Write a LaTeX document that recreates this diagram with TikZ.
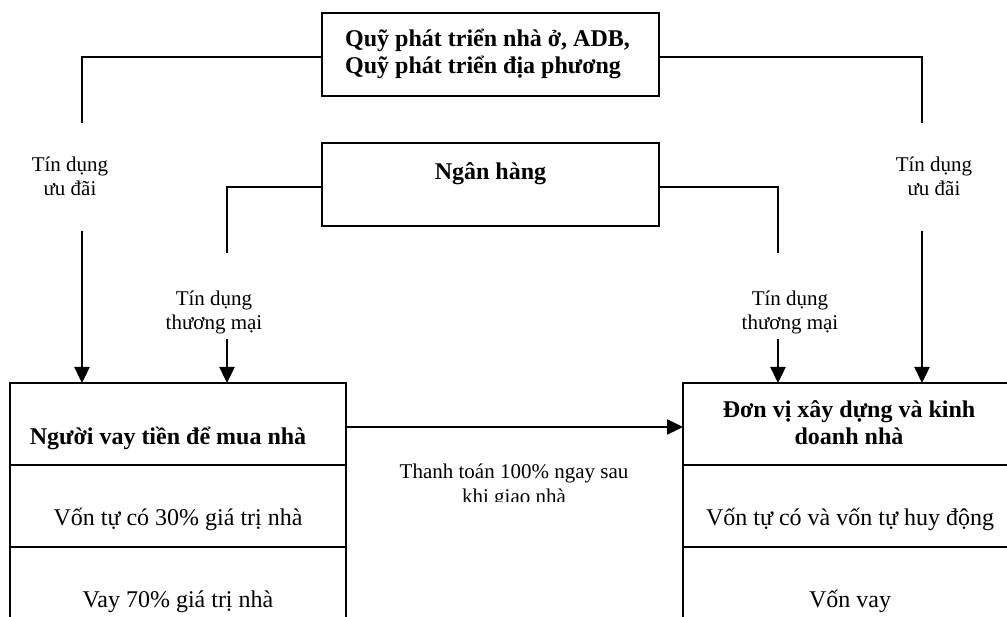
\documentclass[tikz,border=0pt]{standalone}
\usepackage{fontspec}
\setmainfont{Liberation Serif}
\usetikzlibrary{arrows.meta}

\tikzset{
  frame/.style={draw=black, line width=2pt, minimum width=337pt, minimum height=83pt, inner sep=0pt},
  wire/.style={draw=black, line width=1.7pt},
  flow/.style={draw=black, line width=2.4pt, -{Triangle[length=16pt,width=15pt]}},
  cellline/.style={draw=black, line width=2.2pt},
  big/.style={font=\fontsize{24}{27}\selectfont, inner sep=0pt},
  bigbold/.style={font=\fontsize{24}{27}\selectfont\bfseries, inner sep=0pt},
  small/.style={font=\fontsize{21}{24.5}\selectfont, inner sep=0pt, align=center},
}

\begin{document}
\begin{tikzpicture}[x=1pt, y=-1pt]
  \useasboundingbox (0,0) rectangle (1007,617);

  % sources of credit
  \node[frame] (fund) at (490.5,54.5) {};
  \node[bigbold, anchor=base west] (fundA) at (345,47) {Quỹ phát triển nhà ở, ADB,};
  \node[bigbold, anchor=base west] (fundB) at (345,74) {Quỹ phát triển địa phương};

  \node[frame] (bank) at (490.5,184.5) {};
  \node[bigbold, anchor=base] (bankT) at (490.5,180) {Ngân hàng};

  % buyer column (open at the bottom)
  \coordinate (buyTL) at (10,383);
  \coordinate (buyTR) at (346,383);
  \coordinate (buyBL) at (10,617);
  \coordinate (buyBR) at (346,617);
  \draw[cellline] (buyBL) -- (buyTL) -- (buyTR) -- (buyBR);
  \draw[cellline] (10,465) -- (346,465);
  \draw[cellline] (10,547) -- (346,547);
  \node[bigbold, anchor=base] (buyer) at (168,445) {Người vay tiền để mua nhà};
  \node[big, anchor=base] (buyer2) at (178,525) {Vốn tự có 30\% giá trị nhà};
  \node[big, anchor=base] (buyer3) at (178,607) {Vay 70\% giá trị nhà};

  % builder column (open at the bottom and right)
  \coordinate (bldTL) at (683,383);
  \coordinate (bldTR) at (1007,383);
  \coordinate (bldBL) at (683,617);
  \draw[cellline] (bldBL) -- (bldTL) -- (bldTR);
  \draw[cellline] (683,465) -- (1007,465);
  \draw[cellline] (683,547) -- (1007,547);
  \node[bigbold, anchor=base] (bldA) at (849,418) {Đơn vị xây dựng và kinh};
  \node[bigbold, anchor=base] (bldB) at (849,445) {doanh nhà};
  \node[big, anchor=base] (bld2) at (850,525) {Vốn tự có và vốn tự huy động};
  \node[big, anchor=base] (bld3) at (850,607) {Vốn vay};

  % preferential credit (base anchor sits on the last line)
  \coordinate (prefL1) at (82,123);
  \coordinate (prefL2) at (82,231);
  \coordinate (prefR1) at (922,123);
  \coordinate (prefR2) at (922,231);
  \draw[wire] (fund.west |- 0,57) -| (prefL1);
  \draw[wire] (fund.east |- 0,57) -| (prefR1);
  \node[small, anchor=base] (prefLt) at (70,196) {Tín dụng\\ưu đãi};
  \node[small, anchor=base] (prefRt) at (934,196) {Tín dụng\\ưu đãi};
  \draw[flow] (prefL2) -- (prefL2 |- buyTL);
  \draw[flow] (prefR2) -- (prefR2 |- bldTL);

  % commercial credit
  \coordinate (comL1) at (227,253);
  \coordinate (comL2) at (227,339);
  \coordinate (comR1) at (778,253);
  \coordinate (comR2) at (778,339);
  \draw[wire] (bank.west |- 0,187) -| (comL1);
  \draw[wire] (bank.east |- 0,187) -| (comR1);
  \node[small, anchor=base] (comLt) at (214,330) {Tín dụng\\thương mại};
  \node[small, anchor=base] (comRt) at (790,330) {Tín dụng\\thương mại};
  \draw[flow] (comL2) -- (comL2 |- buyTL);
  \draw[flow] (comR2) -- (comR2 |- bldTL);

  % payment
  \coordinate (payA) at (346,427);
  \coordinate (payB) at (683,427);
  \draw[flow] (payA) -- (payB);
  \begin{scope}
    \clip (300,440) rectangle (700,501);
    \node[small, anchor=base] (payT) at (514,503) {Thanh toán 100\% ngay sau\\khi giao nhà};
  \end{scope}
\end{tikzpicture}
\end{document}
